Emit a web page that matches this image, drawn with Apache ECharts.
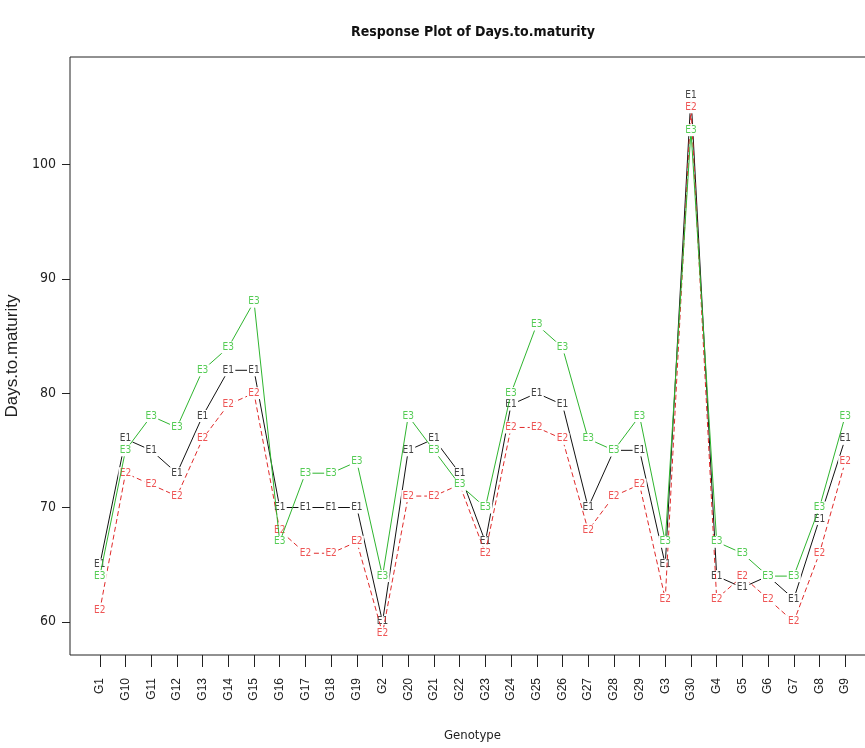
<!DOCTYPE html>
<html>
<head>
<meta charset="utf-8">
<script src="https://cdn.jsdelivr.net/npm/echarts@6/dist/echarts.min.js"></script>
<style>html,body{margin:0;padding:0;background:#fff;}#c{width:865px;height:748px;}</style>
</head>
<body>
<div id="c"></div>
<script>
const categories = ['G1','G10','G11','G12','G13','G14','G15','G16','G17','G18','G19','G2','G20','G21','G22','G23','G24','G25','G26','G27','G28','G29','G3','G30','G4','G5','G6','G7','G8','G9'];
const seriesNames = ['E1','E2','E3'];
const e1 = [65,76,75,73,78,82,82,70,70,70,70,60,75,76,73,67,79,80,79,70,75,75,65,106,64,63,64,62,69,76];
const e2 = [61,73,72,71,76,79,80,68,66,66,67,59,71,71,72,66,77,77,76,68,71,72,62,105,62,64,62,60,66,74];
const e3 = [64,75,78,77,82,84,88,67,73,73,74,64,78,75,72,70,80,86,84,76,75,78,67,103,67,66,64,64,70,78];
const yTicks = [60,70,80,90,100];

const lineColors = ['#111111','#e02a2a','#2fb52f'];
const labelColors = ['#444444','#ee5555','#55cc55'];
const lineTypes = ['solid',[5,3],'solid'];
const xIdx = categories.map((c,i)=>i);
const condensed = 'DejaVu Sans Condensed, Liberation Sans Narrow, Liberation Sans, sans-serif';

function mk(name, vals, k){
  return {
    name: name, type: 'line',
    data: vals.map((v,i)=>[i,v]),
    symbol: 'rect', symbolSize: [14,12],
    itemStyle: {color: '#ffffff', borderWidth: 0},
    lineStyle: {color: lineColors[k], width: 1, type: lineTypes[k]},
    label: {show: true, position: 'inside', formatter: name, color: labelColors[k],
            fontSize: 10, fontFamily: condensed},
    emphasis: {disabled: true},
    z: 2 + k
  };
}

const chart = echarts.init(document.getElementById('c'), null, {renderer: 'canvas'});
chart.setOption({
  animation: false,
  backgroundColor: '#ffffff',
  title: {
    text: 'Response Plot of Days.to.maturity',
    left: 468, top: 20, textAlign: 'center',
    textStyle: {fontSize: 14, fontWeight: 'bold', color: '#111', fontFamily: condensed}
  },
  grid: {left: 70, right: -10, top: 57, bottom: 93, show: true, outerBoundsMode: 'none', containLabel: false,
         borderColor: '#222', borderWidth: 1, backgroundColor: 'transparent'},
  xAxis: {
    type: 'value', min: -1.16, max: 30.16,
    name: 'Genotype', nameLocation: 'middle', nameGap: 74,
    nameTextStyle: {fontSize: 13, color: '#222', fontFamily: condensed},
    axisLine: {show: false, onZero: false},
    axisTick: {show: true, length: 12, customValues: xIdx, lineStyle: {color: '#222'}},
    axisLabel: {show: true, customValues: xIdx, rotate: 90, margin: 23, fontSize: 12, color: '#222',
                fontFamily: 'Liberation Sans, sans-serif',
                formatter: function(v){ return categories[Math.round(v)] || ''; }},
    splitLine: {show: false}
  },
  yAxis: {
    type: 'value', min: 57.1, max: 109.4,
    name: 'Days.to.maturity', nameLocation: 'middle', nameGap: 42, nameRotate: 90,
    nameTextStyle: {fontSize: 17, color: '#222', fontFamily: 'Liberation Sans, sans-serif'},
    axisLine: {show: false, onZero: false},
    axisTick: {show: true, length: 8, customValues: yTicks, lineStyle: {color: '#222'}},
    axisLabel: {show: true, customValues: yTicks, margin: 14, fontSize: 14, color: '#222',
                fontFamily: condensed},
    splitLine: {show: false}
  },
  series: [mk('E1', e1, 0), mk('E2', e2, 1), mk('E3', e3, 2)]
});
</script>
</body>
</html>
